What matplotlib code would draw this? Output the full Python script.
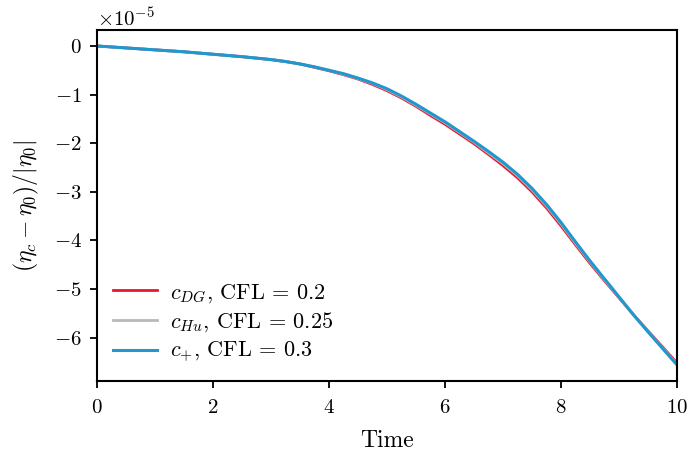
import numpy as np
import matplotlib
matplotlib.use('Agg')
import matplotlib.pyplot as plt

plt.rcParams['font.family'] = 'serif'
plt.rcParams['font.serif'] = ['cmr10']
plt.rcParams['mathtext.fontset'] = 'cm'
plt.rcParams['axes.formatter.use_mathtext'] = True
plt.rcParams['axes.unicode_minus'] = True

time = [0.0, 0.5, 1.0, 1.5, 2.0, 2.5, 3.0, 3.25, 3.5, 3.75,
        4.0, 4.25, 4.5, 4.75, 5.0, 5.25, 5.5, 5.75, 6.0, 6.25, 6.5, 6.75,
        7.0, 7.25, 7.5, 7.75, 8.0, 8.25, 8.5, 8.75, 9.0, 9.25, 9.5, 9.75, 10.0]
# values in units of 1e-5
c_plus = [0.0, -0.04, -0.08, -0.12, -0.17, -0.22, -0.28, -0.32, -0.37, -0.43,
          -0.50, -0.57, -0.66, -0.76, -0.88, -1.03, -1.20, -1.38, -1.56, -1.76, -1.96, -2.17,
          -2.39, -2.64, -2.93, -3.26, -3.63, -4.03, -4.42, -4.79, -5.16, -5.53, -5.88, -6.22, -6.56]
c_hu = [0.0, -0.04, -0.08, -0.12, -0.17, -0.22, -0.28, -0.32, -0.37, -0.43,
        -0.50, -0.58, -0.67, -0.77, -0.90, -1.05, -1.22, -1.40, -1.58, -1.78, -1.98, -2.20,
        -2.42, -2.67, -2.96, -3.29, -3.66, -4.06, -4.44, -4.81, -5.17, -5.53, -5.87, -6.21, -6.54]
c_dg = [0.0, -0.04, -0.08, -0.12, -0.17, -0.22, -0.28, -0.32, -0.37, -0.44,
        -0.51, -0.59, -0.68, -0.79, -0.92, -1.07, -1.24, -1.43, -1.61, -1.81, -2.01, -2.23,
        -2.46, -2.71, -3.00, -3.33, -3.70, -4.09, -4.47, -4.83, -5.18, -5.53, -5.86, -6.19, -6.52]

fig, ax = plt.subplots(figsize=(6.88, 4.55), dpi=100)
t = np.array(time)
ax.plot(t, np.array(c_dg) * 1e-5, color='#e8152e', lw=2, label=r'$c_{DG}$, CFL = 0.2')
ax.plot(t, np.array(c_hu) * 1e-5, color='#bdb8b8', lw=2, label=r'$c_{Hu}$, CFL = 0.25')
ax.plot(t, np.array(c_plus) * 1e-5, color='#1f97cf', lw=2.2, label=r'$c_{+}$, CFL = 0.3')

ax.set_xlim(0, 10)
ax.set_xlabel('Time', fontsize=17, labelpad=9)
ax.set_ylabel(r'$(\eta_c - \eta_0)/|\eta_0|$', fontsize=17, labelpad=9)
ax.tick_params(labelsize=15, width=1.3, length=5)
ax.tick_params(axis='x', pad=8)
ax.tick_params(axis='y', pad=6)
for s in ax.spines.values():
    s.set_linewidth(1.5)
ax.yaxis.get_offset_text().set_fontsize(15)
ax.legend(loc='lower left', bbox_to_anchor=(0.0, 0.0), frameon=False, fontsize=16,
          handlelength=2.0, labelspacing=0.27, handletextpad=0.6, borderaxespad=0.3)

fig.subplots_adjust(left=0.141, right=0.984, top=0.934, bottom=0.163)
fig.savefig('out.png', dpi=100)
